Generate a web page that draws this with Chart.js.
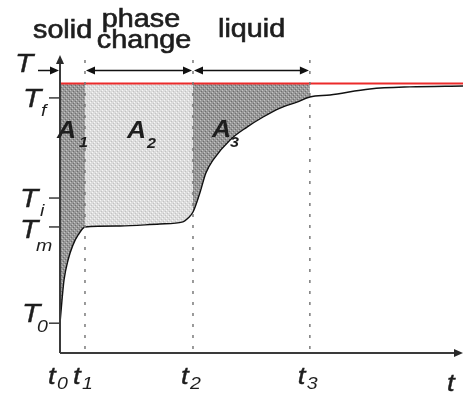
<!DOCTYPE html>
<html><head><meta charset="utf-8">
<script src="https://cdn.jsdelivr.net/npm/chart.js@4/dist/chart.umd.min.js"></script>
<style>html,body{margin:0;padding:0;background:#fff;overflow:hidden}#wrap{width:465px;height:399px}</style>
</head><body><div id="wrap"><canvas id="c" width="465" height="399"></canvas></div>
<script>
// ---- data (arbitrary units: time 0..100, temperature 0..100) ----
const curveTime = [0, 0.5, 1, 2, 3.2, 4.5, 6.2, 14.9, 24.8, 30.5, 31.8, 33, 34.7, 36.2, 38, 42.2, 46.4, 50.4, 54.6, 58.8, 62, 67, 76.9, 86.8, 100];
const curveTemp = [10, 17.8, 24.5, 31.2, 36.2, 39.6, 42.3, 42.6, 43.3, 44, 45.3, 47.3, 53.7, 60.4, 64.8, 71.5, 75.8, 79.2, 82.2, 84.2, 85.9, 86.6, 88.6, 89.3, 89.6];
const ambientTemp = 90.4;               // T (red line)
const phaseTimes = [0, 6.2, 33, 62];     // t0, t1, t2, t3
const xTickLabels = [['t','0'], ['t','1'], ['t','2'], ['t','3']];
const yTickValues = [85.6, 52, 42.3, 10]; // Tf, Ti, Tm, T0
const yTickLabels = [['T','f'], ['T','i'], ['T','m'], ['T','0']];
const regionLabels = [['solid'], ['phase', 'change'], ['liquid']];
const areaLabels = [['A','1'], ['A','2'], ['A','3']];

function makePattern(base, hi, lo) {
  const p = document.createElement('canvas'); p.width = 4; p.height = 4;
  const g = p.getContext('2d');
  g.fillStyle = base; g.fillRect(0, 0, 4, 4);
  g.fillStyle = hi; g.fillRect(0, 0, 1, 1); g.fillRect(2, 2, 1, 1);
  g.fillStyle = lo; g.fillRect(1, 3, 1, 1); g.fillRect(3, 1, 1, 1);
  return g.createPattern(p, 'repeat');
}
const ctx0 = document.getElementById('c').getContext('2d');
const darkPat = makePattern('#989898', '#c4c4c4', '#6e6e6e');
const lightPat = makePattern('#dcdcdc', '#f6f6f6', '#c2c2c2');

const curvePts = curveTime.map((t, i) => ({x: t, y: curveTemp[i]}));
function segment(a, b) { return curvePts.filter(p => p.x >= a && p.x <= b); }

const fillDs = (a, b, pat) => ({
  data: segment(a, b), borderWidth: 0, pointRadius: 0,
  backgroundColor: pat, fill: {value: ambientTemp}, cubicInterpolationMode: 'monotone'
});

const overlay = {
  id: 'overlay',
  afterDraw(chart) {
    const c = chart.ctx, xs = chart.scales.x, ys = chart.scales.y;
    const X = v => xs.getPixelForValue(v), Y = v => ys.getPixelForValue(v);
    const x0 = X(0), y0 = Y(0), xEnd = X(100), yTop = Y(100);
    const ink = '#1e1e1e';
    function arrowHead(x, y, dir) {
      c.beginPath();
      if (dir === 'r') { c.moveTo(x, y); c.lineTo(x - 9, y - 4); c.lineTo(x - 9, y + 4); }
      else if (dir === 'l') { c.moveTo(x, y); c.lineTo(x + 9, y - 4); c.lineTo(x + 9, y + 4); }
      else { c.moveTo(x, y); c.lineTo(x - 4, y + 9); c.lineTo(x + 4, y + 9); }
      c.closePath(); c.fill();
    }
    function txt(s, x, y, font, align, stroke) {
      c.save(); c.translate(x, y); c.scale(1.15, 1);
      c.font = font; c.textAlign = align || 'left'; c.textBaseline = 'alphabetic';
      c.fillText(s, 0, 0);
      if (stroke) { c.lineWidth = stroke; c.strokeStyle = c.fillStyle; c.strokeText(s, 0, 0); }
      c.restore();
    }
    c.save();
    // dotted phase boundaries
    c.strokeStyle = '#7a7a7a'; c.lineWidth = 1.5; c.setLineDash([3, 8]);
    phaseTimes.slice(1).forEach(t => { c.beginPath(); c.moveTo(X(t), 60); c.lineTo(X(t), y0); c.stroke(); });
    c.setLineDash([]);
    // axes
    c.strokeStyle = '#3a3a3a'; c.fillStyle = '#2a2a2a'; c.lineWidth = 2;
    c.beginPath(); c.moveTo(x0, y0); c.lineTo(x0, yTop + 6); c.stroke();
    c.beginPath(); c.moveTo(x0, y0); c.lineTo(xEnd - 6, y0); c.stroke();
    arrowHead(x0, yTop, 'u'); arrowHead(xEnd, y0, 'r');
    // y ticks
    c.lineWidth = 1.5;
    yTickValues.forEach(v => { c.beginPath(); c.moveTo(x0 - 11, Y(v)); c.lineTo(x0, Y(v)); c.stroke(); });
    // dimension arrows
    const ay = 70.5;
    c.fillStyle = '#111'; c.strokeStyle = '#111'; c.lineWidth = 1.5;
    c.beginPath(); c.moveTo(38, ay); c.lineTo(x0 - 4, ay); c.stroke(); arrowHead(x0 - 1, ay, 'r');
    for (let k = 1; k < 3; k++) {
      const a = X(phaseTimes[k]), b = X(phaseTimes[k + 1]);
      c.beginPath(); c.moveTo(a + 4, ay); c.lineTo(b - 4, ay); c.stroke();
      arrowHead(a + 1, ay, 'l'); arrowHead(b - 1, ay, 'r');
    }
    // region labels
    c.fillStyle = ink;
    const F = '25px "Liberation Sans", Arial, sans-serif';
    txt(regionLabels[0][0], 33, 38, F, 'left', 0.6);
    txt(regionLabels[1][0], 141, 27, F, 'center', 0.6);
    txt(regionLabels[1][1], 144, 48, F, 'center', 0.6);
    txt(regionLabels[2][0], 218, 37, F, 'left', 0.6);
    // T labels
    const FI = 'italic 26px "Liberation Sans", Arial, sans-serif';
    const FS = 'italic 17px "Liberation Sans", Arial, sans-serif';
    txt('T', 15, 72, FI, 'left', 0.4);
    const tOff = [[23, 9, 41, 18], [20, 9, 40, 18], [20, 11, 36, 24], [22, -1, 37, 9]];
    yTickValues.forEach((v, i) => {
      const o = tOff[i], py = Y(v);
      txt(yTickLabels[i][0], o[0], py + o[1], FI, 'left', 0.4);
      txt(yTickLabels[i][1], o[2], py + o[3], FS);
    });
    // t labels
    const FT = 'italic 24px "Liberation Sans", Arial, sans-serif';
    phaseTimes.forEach((t, i) => {
      const px = X(t);
      txt(xTickLabels[i][0], px - 12, 384, FT, 'left', 0.4);
      txt(xTickLabels[i][1], px - 3, 389, FS);
    });
    txt('t', 447, 391, FT, 'left', 0.4);
    // area labels
    const FA = 'bold italic 23px "Liberation Sans", Arial, sans-serif';
    const FAS = 'bold italic 14px "Liberation Sans", Arial, sans-serif';
    const aPos = [[57, 138, 79, 147], [127, 138, 147, 148], [212, 137, 230, 147]];
    areaLabels.forEach((l, i) => {
      const p = aPos[i];
      txt(l[0], p[0], p[1], FA); txt(l[1], p[2], p[3], FAS);
    });
    c.restore();
  }
};

new Chart(document.getElementById('c'), {
  type: 'line',
  data: {
    datasets: [
      {data: [{x: 0, y: ambientTemp}, {x: 100, y: ambientTemp}], borderColor: '#ec2a2a', borderWidth: 2, pointRadius: 0, fill: false},
      {data: curvePts, borderColor: '#111', borderWidth: 1.4, pointRadius: 0, fill: false, cubicInterpolationMode: 'monotone'},
      fillDs(phaseTimes[0], phaseTimes[1], darkPat),
      fillDs(phaseTimes[1], phaseTimes[2], lightPat),
      fillDs(phaseTimes[2], phaseTimes[3], darkPat)
    ]
  },
  options: {
    responsive: false, animation: false, events: [], devicePixelRatio: 1,
    layout: {padding: {left: 60, right: 2, top: 55, bottom: 46}},
    scales: {
      x: {type: 'linear', min: 0, max: 100, display: false},
      y: {type: 'linear', min: 0, max: 100, display: false}
    },
    plugins: {legend: {display: false}, tooltip: {enabled: false}}
  },
  plugins: [overlay]
});
</script></body></html>
